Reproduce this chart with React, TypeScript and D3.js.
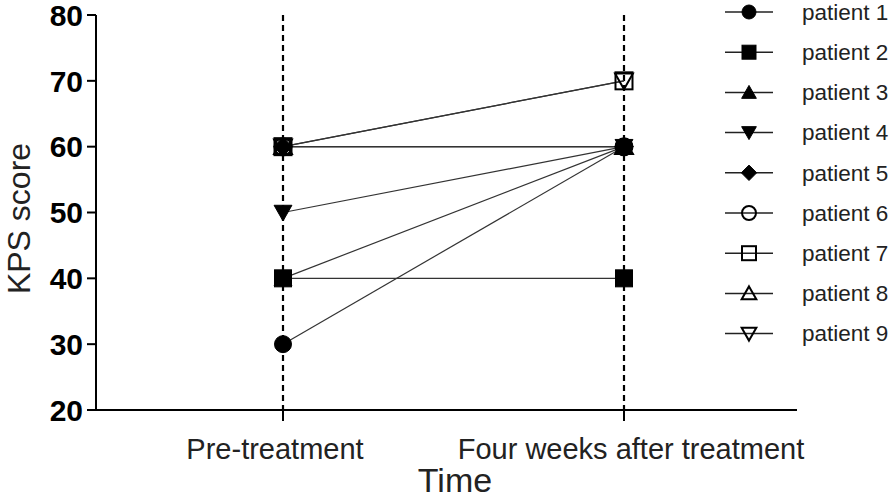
import React from "react";
import * as d3 from "d3";

const timepoints = ["Pre-treatment", "Four weeks after treatment"];
const patients = ["patient 1", "patient 2", "patient 3", "patient 4", "patient 5", "patient 6", "patient 7", "patient 8", "patient 9"];
const preValues = [30, 40, 40, 50, 60, 60, 60, 60, 60];
const postValues = [60, 40, 60, 60, 60, 60, 70, 60, 70];
const yTicks = [20, 30, 40, 50, 60, 70, 80];
const markerTypes = ["circle", "square", "triangle", "triangleDown", "diamond", "circle", "square", "triangle", "triangleDown"];
const markerFilled = [true, true, true, true, true, false, false, false, false];

const W = 896;
const H = 501;
const FONT = "Liberation Sans, Arial, sans-serif";

function Marker({ type, filled, x, y, s }: { type: string; filled: boolean; x: number; y: number; s: number }) {
  const fill = filled ? "#000" : "none";
  const stroke = "#000";
  const sw = filled ? 1 : 2;
  if (type === "circle") return <circle cx={x} cy={y} r={s / 2} fill={fill} stroke={stroke} strokeWidth={sw} />;
  if (type === "square") return <rect x={x - s / 2} y={y - s / 2} width={s} height={s} fill={fill} stroke={stroke} strokeWidth={sw} />;
  if (type === "diamond") {
    const h = s * 0.55;
    return <path d={`M${x},${y - h}L${x + h},${y}L${x},${y + h}L${x - h},${y}Z`} fill={fill} stroke={stroke} strokeWidth={sw} />;
  }
  const h = s * 0.5;
  if (type === "triangle")
    return <path d={`M${x},${y - h}L${x + h * 1.05},${y + h * 0.85}L${x - h * 1.05},${y + h * 0.85}Z`} fill={fill} stroke={stroke} strokeWidth={sw} />;
  return <path d={`M${x},${y + h}L${x + h * 1.05},${y - h * 0.85}L${x - h * 1.05},${y - h * 0.85}Z`} fill={fill} stroke={stroke} strokeWidth={sw} />;
}

export default function App() {
  const axisLeft = 96;
  const axisRight = 797;
  const y = d3.scaleLinear().domain([20, 80]).range([410, 15]);
  const x = d3.scalePoint<string>().domain(timepoints).range([283, 624]);

  const legendX = 749;
  const legendY0 = 12;
  const legendStep = 40.2;

  return (
    <div style={{ position: "absolute", left: 0, top: 0, width: W, height: H, overflow: "hidden" }}>
      <svg width={W} height={H} style={{ display: "block", background: "#fff" }} fontFamily={FONT}>
        {/* dashed verticals */}
        {timepoints.map((t) => (
          <line key={t} x1={x(t)} x2={x(t)} y1={y(80)} y2={y(20)} stroke="#000" strokeWidth={2.2} strokeDasharray="6,4" />
        ))}
        {/* connecting lines */}
        {patients.map((p, i) => (
          <line key={p} x1={x(timepoints[0])} y1={y(preValues[i])} x2={x(timepoints[1])} y2={y(postValues[i])} stroke="#333" strokeWidth={1.2} />
        ))}
        {/* markers */}
        {patients.map((p, i) => (
          <g key={p}>
            <Marker type={markerTypes[i]} filled={markerFilled[i]} x={x(timepoints[0])!} y={y(preValues[i])} s={17} />
            <Marker type={markerTypes[i]} filled={markerFilled[i]} x={x(timepoints[1])!} y={y(postValues[i])} s={17} />
          </g>
        ))}
        {/* y axis */}
        <line x1={axisLeft} x2={axisLeft} y1={y(80)} y2={y(20)} stroke="#000" strokeWidth={2} />
        {yTicks.map((t) => (
          <g key={t}>
            <line x1={axisLeft - 9} x2={axisLeft} y1={y(t)} y2={y(t)} stroke="#000" strokeWidth={2} />
            <text x={axisLeft - 13} y={y(t)} dy="0.36em" textAnchor="end" fontSize={30} fontWeight="bold" fill="#000">
              {t}
            </text>
          </g>
        ))}
        {/* x axis */}
        <line x1={axisLeft} x2={axisRight} y1={y(20)} y2={y(20)} stroke="#000" strokeWidth={2} />
        {timepoints.map((t) => (
          <g key={t}>
            <line x1={x(t)} x2={x(t)} y1={y(20)} y2={y(20) + 11} stroke="#000" strokeWidth={2} />
            <text x={x(t)! + (t === timepoints[0] ? -8 : 7)} y={459} textAnchor="middle" fontSize={29} fill="#222">
              {t}
            </text>
          </g>
        ))}
        <text x={455} y={492} textAnchor="middle" fontSize={34} fill="#222">
          Time
        </text>
        <text transform={`translate(30,${(y(20) + y(80)) / 2 + 6}) rotate(-90)`} textAnchor="middle" fontSize={32} fill="#222">
          KPS score
        </text>
        {/* legend */}
        {patients.map((p, i) => {
          const ly = legendY0 + i * legendStep;
          return (
            <g key={p}>
              <line x1={legendX - 24} x2={legendX + 24} y1={ly} y2={ly} stroke="#222" strokeWidth={1.5} />
              <Marker type={markerTypes[i]} filled={markerFilled[i]} x={legendX} y={ly} s={14} />
              <text x={802} y={ly} dy="0.35em" fontSize={22.5} fill="#222">
                {p}
              </text>
            </g>
          );
        })}
      </svg>
    </div>
  );
}
